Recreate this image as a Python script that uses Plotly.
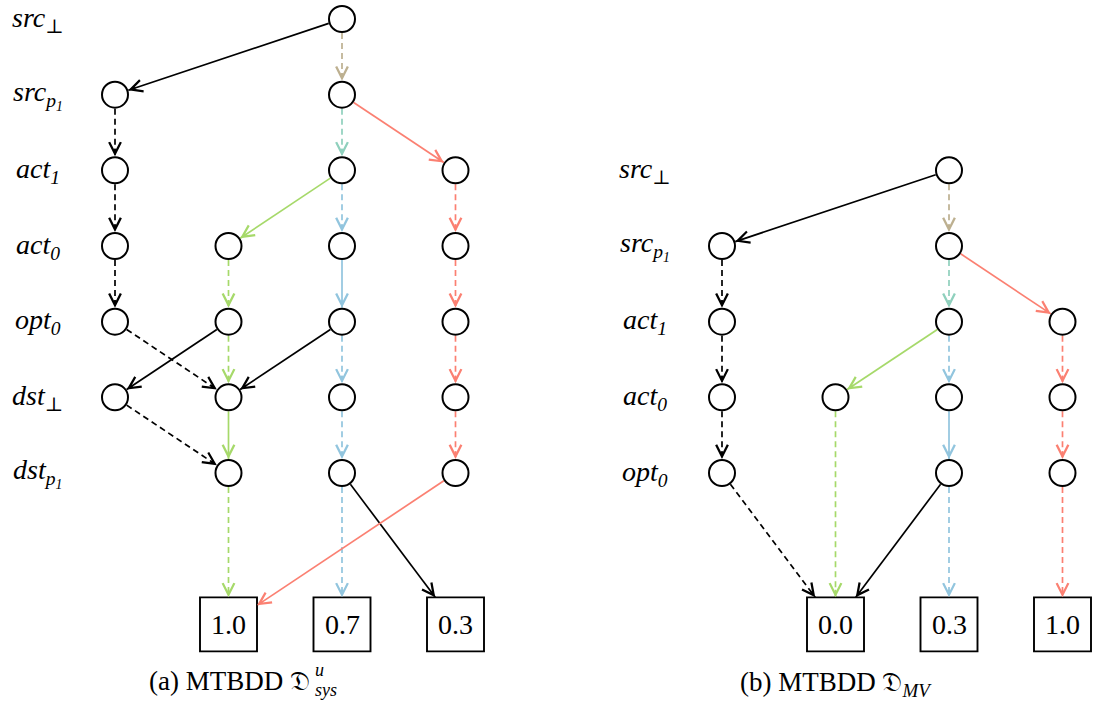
import math
import plotly.graph_objects as go

# ---------------- data ----------------
LEVEL_LABELS_A = ["src<sub>⊥</sub>", "src<sub>p<sub>1</sub></sub>", "act<sub>1</sub>", "act<sub>0</sub>",
                  "opt<sub>0</sub>", "dst<sub>⊥</sub>", "dst<sub>p<sub>1</sub></sub>"]
LEVEL_LABELS_B = ["src<sub>⊥</sub>", "src<sub>p<sub>1</sub></sub>", "act<sub>1</sub>", "act<sub>0</sub>",
                  "opt<sub>0</sub>"]

# nodes: name -> (column, level)
NODES_A = {
    "A": (2, 0),
    "B": (0, 1), "C": (2, 1),
    "D": (0, 2), "E": (2, 2), "F": (3, 2),
    "G": (0, 3), "H": (1, 3), "I": (2, 3), "J": (3, 3),
    "K": (0, 4), "L": (1, 4), "M": (2, 4), "N": (3, 4),
    "O": (0, 5), "P": (1, 5), "Q": (2, 5), "R": (3, 5),
    "S": (1, 6), "T": (2, 6), "U": (3, 6),
}
TERMINALS_A = {"t10": ("1.0", 1), "t07": ("0.7", 2), "t03": ("0.3", 3)}

NODES_B = {
    "a": (2, 0),
    "b": (0, 1), "c": (2, 1),
    "d": (0, 2), "e": (2, 2), "f": (3, 2),
    "g": (0, 3), "h": (1, 3), "i": (2, 3), "j": (3, 3),
    "k": (0, 4), "l": (2, 4), "m": (3, 4),
}
TERMINALS_B = {"t00": ("0.0", 1), "t03": ("0.3", 2), "t10": ("1.0", 3)}

# edges: (from, to, colour key, dashed)
EDGES_A = [
    ("A", "B", "black", False), ("A", "C", "tan", True),
    ("B", "D", "black", True), ("C", "E", "teal", True), ("C", "F", "red", False),
    ("D", "G", "black", True), ("E", "H", "green", False), ("E", "I", "blue", True),
    ("F", "J", "red", True),
    ("G", "K", "black", True), ("H", "L", "green", True), ("I", "M", "blue", False),
    ("J", "N", "red", True),
    ("K", "P", "black", True), ("L", "O", "black", False), ("L", "P", "green", True),
    ("M", "P", "black", False), ("M", "Q", "blue", True), ("N", "R", "red", True),
    ("O", "S", "black", True), ("P", "S", "green", False), ("Q", "T", "blue", True),
    ("R", "U", "red", True),
    ("S", "t10", "green", True), ("T", "t07", "blue", True), ("T", "t03", "black", False),
    ("U", "t10", "red", False),
]
EDGES_B = [
    ("a", "b", "black", False), ("a", "c", "tan", True),
    ("b", "d", "black", True), ("c", "e", "teal", True), ("c", "f", "red", False),
    ("d", "g", "black", True), ("e", "h", "green", False), ("e", "i", "blue", True),
    ("f", "j", "red", True),
    ("g", "k", "black", True), ("h", "t00", "green", True), ("i", "l", "blue", False),
    ("j", "m", "red", True),
    ("k", "t00", "black", True), ("l", "t00", "black", False), ("l", "t03", "blue", True),
    ("m", "t10", "red", True),
]

CAPTION_A_MAIN = "(a) MTBDD 𝔇"
CAPTION_A_SUP = "u"
CAPTION_A_SUB = "sys"
CAPTION_B = "(b) MTBDD 𝔇<sub><i>MV</i></sub>"

COLORS = {"black": "#000000", "tan": "#bdb090", "teal": "#8fd0bd", "blue": "#92c5de",
          "green": "#a6d96a", "red": "#fb8072"}

SERIF = "Liberation Serif, DejaVu Serif, serif"

# ---------------- layout constants ----------------
W, H = 1094, 706
XS, X0 = 113.5, 115.0   # px per column, pixel of column 0
YS, Y0 = 75.67, 19.0    # px per level, pixel of level 0
B_XOFF = (722 - 115) / XS  # column offset of diagram (b)
B_YOFF = 2                 # level offset of diagram (b)
TERM_LEVEL = 8.0
LABEL_DX = -0.68
R_PX = 14.0
BOX_HW, BOX_HH = 28.5, 27.0

xr = [-X0 / XS, (W - X0) / XS]
yr = [(H - Y0) / YS, -Y0 / YS]

fig = go.Figure()
annotations = []
shapes = []


def build(nodes, terms, edges, xoff, yoff, labels):
    pos = {}
    kind = {}
    for n, (c, l) in nodes.items():
        pos[n] = (c + xoff, l + yoff)
        kind[n] = "circle"
    for n, (txt, c) in terms.items():
        pos[n] = (c + xoff, TERM_LEVEL)
        kind[n] = "box"

    for s, t, ck, dashed in edges:
        x1, y1 = pos[s]
        x2, y2 = pos[t]
        dxp, dyp = (x2 - x1) * XS, (y2 - y1) * YS
        L = math.hypot(dxp, dyp)
        ux, uy = dxp / L, dyp / L
        sx, sy = x1 + ux * R_PX / XS, y1 + uy * R_PX / YS
        if kind[t] == "circle":
            d = R_PX
        else:
            cands = []
            if abs(ux) > 1e-9:
                cands.append(BOX_HW / abs(ux))
            if abs(uy) > 1e-9:
                cands.append(BOX_HH / abs(uy))
            d = min(cands)
        ex, ey = x2 - ux * d / XS, y2 - uy * d / YS
        col = COLORS[ck]
        fig.add_trace(go.Scatter(
            x=[sx, ex], y=[sy, ey], mode="lines",
            line=dict(color=col, width=1.7, dash="6px,4px" if dashed else "solid"),
            hoverinfo="skip", showlegend=False))
        annotations.append(dict(
            x=ex, y=ey, xref="x", yref="y", ax=-ux * 9, ay=-uy * 9,
            axref="pixel", ayref="pixel", text="", showarrow=True,
            arrowhead=5, arrowsize=1.35, arrowwidth=1.7, arrowcolor=col, standoff=0))

    cx = [pos[n][0] for n in nodes]
    cy = [pos[n][1] for n in nodes]
    fig.add_trace(go.Scatter(
        x=cx, y=cy, mode="markers",
        marker=dict(symbol="circle", size=26, color="white",
                    line=dict(color="black", width=2.0)),
        hoverinfo="skip", showlegend=False))

    for n, (txt, c) in terms.items():
        x, y = pos[n]
        shapes.append(dict(type="rect", xref="x", yref="y",
                           x0=x - BOX_HW / XS, x1=x + BOX_HW / XS,
                           y0=y - BOX_HH / YS, y1=y + BOX_HH / YS,
                           line=dict(color="black", width=1.9), fillcolor="white"))
        annotations.append(dict(x=x, y=y, xref="x", yref="y", text=txt, showarrow=False,
                                xanchor="center", yanchor="middle",
                                font=dict(family=SERIF, size=28, color="black")))

    for i, lab in enumerate(labels):
        annotations.append(dict(x=xoff + LABEL_DX, y=i + yoff, xref="x", yref="y",
                                text="<i>" + lab + "</i>", showarrow=False,
                                xanchor="center", yanchor="middle",
                                font=dict(family=SERIF, size=28, color="black")))


build(NODES_A, TERMINALS_A, EDGES_A, 0, 0, LEVEL_LABELS_A)
build(NODES_B, TERMINALS_B, EDGES_B, B_XOFF, B_YOFF, LEVEL_LABELS_B)

CAP_Y = 681
CAP_A_SPLIT = 312
annotations.append(dict(x=CAP_A_SPLIT / W, y=1 - CAP_Y / H, xref="paper", yref="paper",
                        text=CAPTION_A_MAIN, xanchor="right", yanchor="middle", showarrow=False,
                        font=dict(family=SERIF, size=27, color="black")))
annotations.append(dict(x=(CAP_A_SPLIT + 1) / W, y=1 - 670 / H, xref="paper", yref="paper",
                        text="<i>" + CAPTION_A_SUP + "</i>", xanchor="left", yanchor="middle",
                        showarrow=False, font=dict(family=SERIF, size=18, color="black")))
annotations.append(dict(x=(CAP_A_SPLIT + 1) / W, y=1 - 690 / H, xref="paper", yref="paper",
                        text="<i>" + CAPTION_A_SUB + "</i>", xanchor="left", yanchor="middle",
                        showarrow=False, font=dict(family=SERIF, size=18, color="black")))
annotations.append(dict(x=836 / W, y=1 - (CAP_Y + 3) / H, xref="paper", yref="paper", text=CAPTION_B,
                        xanchor="center", yanchor="middle", showarrow=False,
                        font=dict(family=SERIF, size=27, color="black")))

fig.update_layout(
    width=W, height=H, margin=dict(l=0, r=0, t=0, b=0),
    paper_bgcolor="white", plot_bgcolor="white",
    xaxis=dict(range=xr, visible=False, fixedrange=True),
    yaxis=dict(range=yr, visible=False, fixedrange=True),
    annotations=annotations, shapes=shapes,
)
fig.write_html("out.html", config={"displayModeBar": False},
               post_script="document.body.style.margin='0';document.body.style.padding='0';")
